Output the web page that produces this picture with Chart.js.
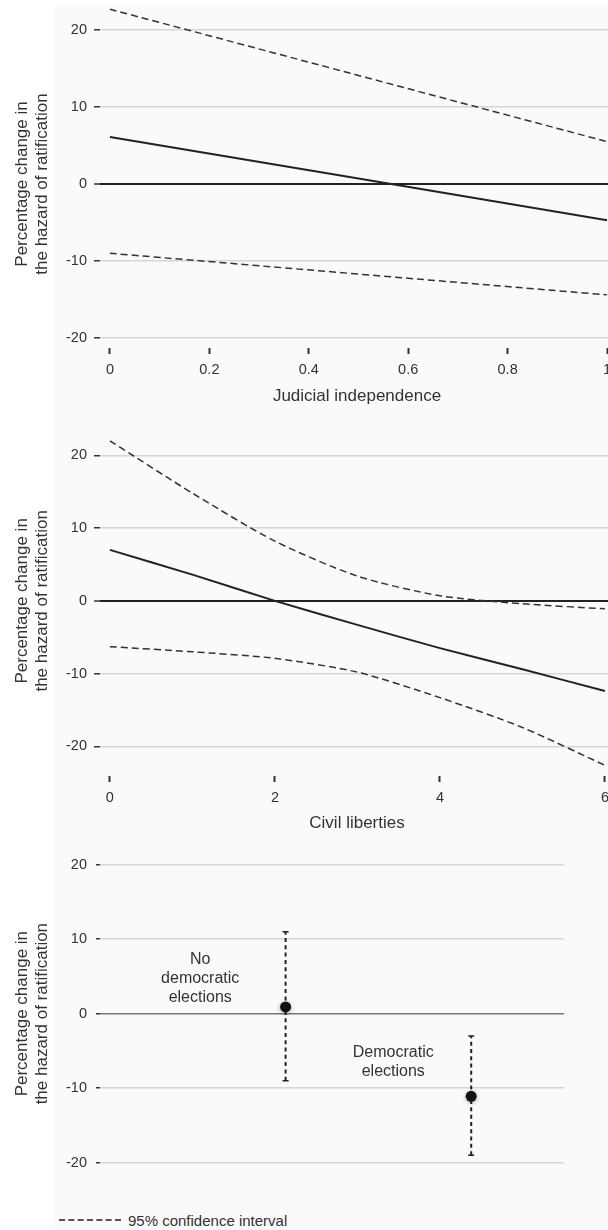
<!DOCTYPE html>
<html>
<head>
<meta charset="utf-8">
<title>Hazard of ratification</title>
<style>
    html, body { margin: 0; padding: 0; width: 608px; height: 1230px; overflow: hidden; background: #fff; }
    #bg { position: absolute; left: 55px; top: 7px; right: 0; bottom: 0; background: #fafafa; }
    canvas { position: absolute; left: 0; }
    #chartJud { top: 0; }
    #chartCiv { top: 410px; }
    #chartElec { top: 836px; }
    .legend {
        position: absolute; left: 59px; top: 1210px; height: 20px;
        display: flex; align-items: center;
        font: 15px "Liberation Sans", Arial, sans-serif; color: #333;
    }
    .legend .dash { width: 62px; border-top: 2px dashed #555; margin-right: 7px; }
</style>
<script src="https://cdn.jsdelivr.net/npm/chart.js@4.4.1/dist/chart.umd.min.js"></script>
</head>
<body>
<div id="bg"></div>
<canvas id="chartJud" width="622" height="409"></canvas>
<canvas id="chartCiv" width="622" height="426"></canvas>
<canvas id="chartElec" width="608" height="354"></canvas>
<div class="legend"><span class="dash"></span><span>95% confidence interval</span></div>

<script>
    "use strict";

    const FONT = '"Liberation Sans", Arial, Helvetica, sans-serif';
    const GRID = "#d6d6d6";

    const yTicks = [-20, -10, 0, 10, 20];

    // panel 1: judicial independence
    const judX = [0, 1];
    const judEst = [6.1, -4.7];
    const judUpper = [22.7, 5.5];
    const judLower = [-9.0, -14.4];
    const judTicks = [0, 0.2, 0.4, 0.6, 0.8, 1];

    // panel 2: civil liberties
    const civX = [0, 1, 2, 3, 4, 5, 6];
    const civEst = [7.0, 3.6, 0.0, -3.3, -6.5, -9.4, -12.4];
    const civUpper = [22.0, 14.8, 8.2, 3.4, 0.7, -0.4, -1.1];
    const civLower = [-6.3, -7.0, -7.9, -9.8, -13.3, -17.4, -22.6];
    const civTicks = [0, 2, 4, 6];

    // panel 3: democratic elections
    const elecLabels = [["No", "democratic", "elections"], ["Democratic", "elections"]];
    const elecX = [2, 4];
    const elecEst = [0.9, -11.1];
    const elecLow = [-9, -19];
    const elecHigh = [11, -3];
    const noteX = [1.08, 3.16];
    const noteY = [4.7, -6.5];

    Chart.defaults.font.family = FONT;
    Chart.defaults.color = "#333";

    const toPoints = (xs, ys) => xs.map((x, i) => ({ x: x, y: ys[i] }));

    /** y axis shared by the three panels */
    function makeY(o) {
        return {
            type: "linear",
            min: o.min,
            max: o.max,
            afterBuildTicks: (s) => { s.ticks = yTicks.map((v) => ({ value: v })); },
            afterFit: (s) => { s.width = 100; },
            border: { display: false },
            grid: {
                color: (c) => (c.tick && c.tick.value === 0 ? o.zeroColor : GRID),
                lineWidth: (c) => (c.tick && c.tick.value === 0 ? o.zeroWidth : 1.5),
                tickColor: "#333",
                tickLength: o.tickLen,
                tickWidth: 1.5
            },
            ticks: {
                font: { size: 14.5 },
                color: "#333",
                padding: o.pad,
                callback: (v) => String(v)
            },
            title: {
                display: true,
                text: ["Percentage change in", "the hazard of ratification"],
                font: { size: 17, lineHeight: 1.18 },
                color: "#333",
                padding: { top: 12, bottom: 0 }
            }
        };
    }

    /** x axis with short vertical tick marks and no axis line */
    function makeX(o) {
        return {
            type: "linear",
            min: o.min,
            max: o.max,
            afterBuildTicks: (s) => { s.ticks = o.ticks.map((v) => ({ value: v })); },
            afterFit: (s) => { s.height = o.height; },
            border: { display: false },
            grid: {
                drawOnChartArea: false,
                drawTicks: true,
                tickLength: 6,
                tickWidth: 2,
                tickColor: "#333"
            },
            ticks: {
                font: { size: 14.5 },
                color: "#333",
                padding: 7,
                maxRotation: 0,
                autoSkip: false,
                callback: (v) => String(v)
            },
            title: {
                display: true,
                text: o.title,
                font: { size: 17, lineHeight: 1.2 },
                color: "#333",
                padding: { top: 0, bottom: 2 }
            }
        };
    }

    function lineSet(data, dashed) {
        return {
            type: "line",
            data: data,
            borderColor: dashed ? "#333" : "#222",
            borderWidth: dashed ? 1.5 : 2,
            borderDash: dashed ? [7, 4] : [],
            pointRadius: 0,
            tension: dashed ? 0.25 : 0.2,
            fill: false,
            clip: false
        };
    }

    const baseOptions = {
        responsive: false,
        devicePixelRatio: 1,
        animation: false,
        events: [],
        plugins: { legend: { display: false }, tooltip: { enabled: false } }
    };

    new Chart(document.getElementById("chartJud").getContext("2d"), {
        type: "line",
        data: {
            datasets: [
                lineSet(toPoints(judX, judEst), false),
                lineSet(toPoints(judX, judUpper), true),
                lineSet(toPoints(judX, judLower), true)
            ]
        },
        options: Object.assign({}, baseOptions, {
            layout: { padding: { top: 20, right: 8, bottom: 0, left: 0 } },
            scales: {
                x: makeX({ min: -0.02, max: 1.014, ticks: judTicks, height: 61, title: "Judicial independence" }),
                y: makeY({ min: -21.3, max: 21.3, tickLen: 6, pad: 7, zeroColor: "#222", zeroWidth: 2 })
            }
        })
    });

    new Chart(document.getElementById("chartCiv").getContext("2d"), {
        type: "line",
        data: {
            datasets: [
                lineSet(toPoints(civX, civEst), false),
                lineSet(toPoints(civX, civUpper), true),
                lineSet(toPoints(civX, civLower), true)
            ]
        },
        options: Object.assign({}, baseOptions, {
            layout: { padding: { top: 11, right: 8, bottom: 0, left: 0 } },
            scales: {
                x: makeX({ min: -0.12, max: 6.11, ticks: civTicks, height: 60, title: "Civil liberties" }),
                y: makeY({ min: -24.07, max: 24.07, tickLen: 6, pad: 7, zeroColor: "#222", zeroWidth: 2 })
            }
        })
    });

    /** soft shadow under the estimate dots */
    const dotShadowPlugin = {
        id: "dotShadowPlugin",
        beforeDatasetDraw(chart, args) {
            if (args.index !== 0) return;
            const ctx = chart.ctx;
            ctx.save();
            ctx.shadowColor = "rgba(0,0,0,0.35)";
            ctx.shadowBlur = 4;
            ctx.shadowOffsetY = 1;
        },
        afterDatasetDraw(chart, args) {
            if (args.index !== 0) return;
            chart.ctx.restore();
        }
    };

    /** category captions placed in data coordinates */
    const noteLabelPlugin = {
        id: "noteLabelPlugin",
        afterDatasetsDraw(chart) {
            const { ctx, scales } = chart;
            ctx.save();
            ctx.font = "16px " + FONT;
            ctx.fillStyle = "#333";
            ctx.textAlign = "center";
            ctx.textBaseline = "middle";
            elecLabels.forEach((lines, i) => {
                const cx = scales.x.getPixelForValue(noteX[i]);
                const cy = scales.y.getPixelForValue(noteY[i]);
                lines.forEach((t, j) => {
                    ctx.fillText(t, cx, cy + (j - (lines.length - 1) / 2) * 19);
                });
            });
            ctx.restore();
        }
    };

    const errorBars = elecX.map((x, i) => ({
        type: "line",
        data: [{ x: x, y: elecLow[i] }, { x: x, y: elecHigh[i] }],
        borderColor: "#222",
        borderWidth: 2,
        borderDash: [4, 3.3],
        pointStyle: "line",
        pointRadius: 3,
        pointBorderWidth: 1.5,
        pointBorderColor: "#222",
        fill: false
    }));

    new Chart(document.getElementById("chartElec").getContext("2d"), {
        type: "scatter",
        data: {
            datasets: [
                {
                    type: "scatter",
                    data: toPoints(elecX, elecEst),
                    pointRadius: 5.5,
                    backgroundColor: "#111",
                    borderWidth: 0
                }
            ].concat(errorBars)
        },
        options: Object.assign({}, baseOptions, {
            layout: { padding: { top: 19, right: 44, bottom: 8.4, left: 0 } },
            scales: {
                x: { type: "linear", display: false, min: 0, max: 5 },
                y: makeY({ min: -21.3, max: 21.3, tickLen: 4, pad: 9, zeroColor: "#777", zeroWidth: 1.5 })
            }
        }),
        plugins: [dotShadowPlugin, noteLabelPlugin]
    });
</script>
</body>
</html>
